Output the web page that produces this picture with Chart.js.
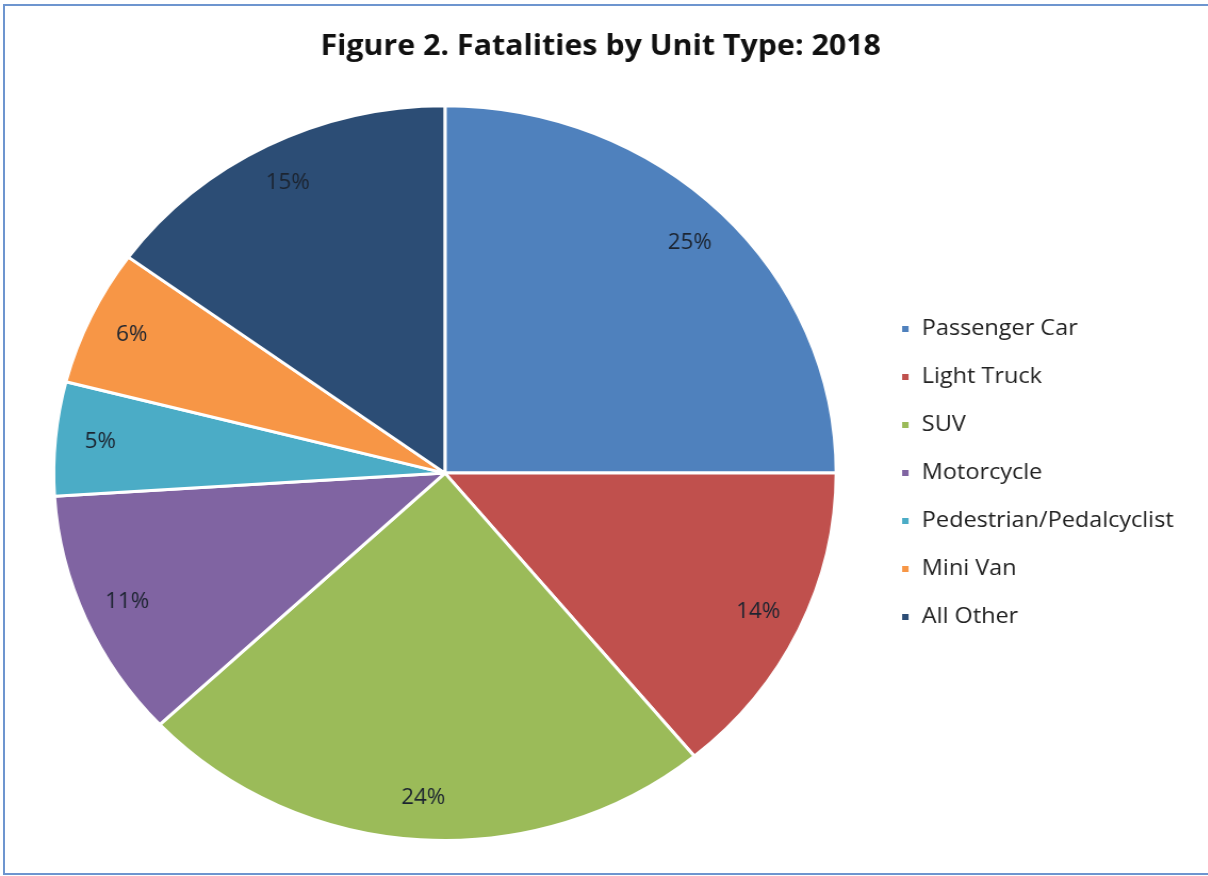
<!DOCTYPE html>
<html>
  <head>
    <title>Figure 2. Fatalities by Unit Type: 2018</title>
    <script src="https://cdn.jsdelivr.net/npm/chart.js"></script>
    <style>
      body { margin: 0; background: #fff; }
      #wrap { position: relative; width: 1208px; height: 876px; overflow: hidden; }
      /* the original figure is a slightly widened screenshot */
      #myChart { transform: scaleX(1.065); transform-origin: 0 0; }
      #frame {
        position: absolute; left: 3px; top: 4px; width: 1210px; height: 867px;
        border: 2px solid #6d95cf; pointer-events: none;
      }
    </style>
  </head>

  <body>
    <div id="wrap">
      <canvas id="myChart" width="1134" height="876"></canvas>
      <div id="frame"></div>
    </div>

    <script>
      // chart data
      var categories = ["Passenger Car", "Light Truck", "SUV", "Motorcycle", "Pedestrian/Pedalcyclist", "Mini Van", "All Other"];
      var shares = [25, 14, 24, 11, 5, 6, 15];
      var sliceColors = ["#4f81bd", "#c0504d", "#9bbb59", "#8064a2", "#4bacc6", "#f79646", "#2c4d75"];

      // percent labels near the outer edge of each slice
      var pctLabels = {
        id: "pctLabels",
        afterDatasetsDraw: function (chart) {
          var ctx = chart.ctx;
          var meta = chart.getDatasetMeta(0);
          ctx.save();
          ctx.font = "21px 'Open Sans'";
          ctx.fillStyle = "#1c2430";
          ctx.textAlign = "center";
          ctx.textBaseline = "middle";
          meta.data.forEach(function (arc, i) {
            var p = arc.getProps(["x", "y", "startAngle", "endAngle", "outerRadius"], true);
            var mid = (p.startAngle + p.endAngle) / 2;
            var r = p.outerRadius * 0.885;
            ctx.fillText(shares[i] + "%", p.x + Math.cos(mid) * r, p.y + Math.sin(mid) * r);
          });
          ctx.restore();
        },
      };

      var ctx = document.getElementById("myChart").getContext("2d");
      var chart = new Chart(ctx, {
        type: "pie",
        data: {
          labels: categories,
          datasets: [
            {
              data: shares,
              backgroundColor: sliceColors,
              borderColor: "#ffffff",
              borderWidth: 3,
              hoverOffset: 0,
            },
          ],
        },
        options: {
          responsive: false,
          animation: false,
          layout: { padding: { left: 16, right: 22, top: 0, bottom: 34 } },
          plugins: {
            title: {
              display: true,
              text: "Figure 2. Fatalities by Unit Type: 2018",
              color: "#111",
              font: { family: "Open Sans", size: 28.5, weight: "bold", lineHeight: 1.2 },
              padding: { top: 30, bottom: 40 },
            },
            legend: {
              position: "right",
              fullSize: false,
              labels: {
                boxWidth: 9,
                boxHeight: 9,
                padding: 26,
                color: "#222",
                font: { family: "Open Sans", size: 22 },
              },
            },
            tooltip: { enabled: false },
          },
        },
        plugins: [pctLabels],
      });
    </script>
  </body>
</html>
